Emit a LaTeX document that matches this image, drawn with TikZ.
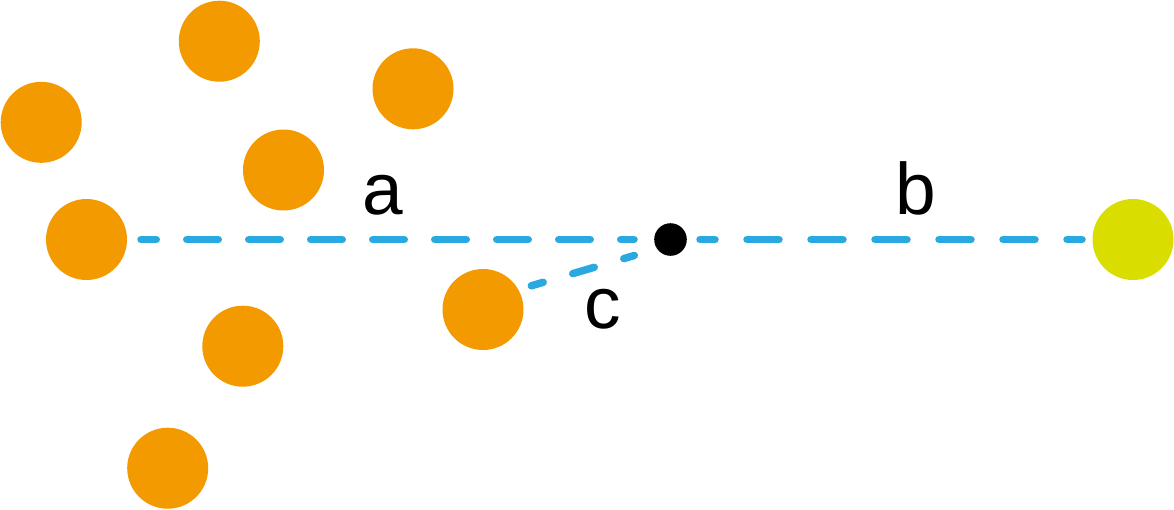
\documentclass[tikz,border=0pt]{standalone}
\usepackage{fontspec}
\setmainfont{Liberation Sans}
\definecolor{dotorange}{HTML}{F39A00}
\definecolor{dotyellow}{HTML}{DADE00}
\definecolor{linkblue}{HTML}{29A9E0}
\begin{document}
\begin{tikzpicture}[x=1pt,y=-1pt,
  dot/.style={circle,fill=dotorange,draw=none,minimum size=81pt,inner sep=0pt},
  target/.style={circle,fill=dotyellow,draw=none,minimum size=81pt,inner sep=0pt},
  centre/.style={circle,fill=black,draw=none,minimum size=32.6pt,inner sep=0pt},
  link/.style={draw=linkblue,line width=7.5pt,line cap=round},
  lbl/.style={anchor=base,inner sep=0pt,font=\fontsize{73}{73}\selectfont}]
\useasboundingbox (0,0) rectangle (1174,509);
\node[dot] (o1) at (219.3,41.2) {};
\node[dot] (o2) at (413,88.8) {};
\node[dot] (o3) at (41.2,122.3) {};
\node[dot] (o4) at (283.5,170) {};
\node[dot] (o5) at (86.5,239.5) {};
\node[dot] (o6) at (483,309.5) {};
\node[dot] (o7) at (242.8,346.2) {};
\node[dot] (o8) at (167.7,468.2) {};
\node[target] (y) at (1133,239.5) {};
\node[centre] (p) at (670.5,239.5) {};
\coordinate (cA) at (531.3,285.8);
\coordinate (cB) at (634.3,255.5);
\draw[link,dash pattern=on 31.5pt off 30.5pt,dash phase=16.25pt,shorten <=54.5pt,shorten >=36.5pt] (o5.center) -- (p.center);
\draw[link,dash pattern=on 32pt off 32pt,dash phase=17pt,shorten <=29.5pt,shorten >=51pt] (p.center) -- (y.center);
\draw[link,dash pattern=on 22.4pt off 30.8pt,dash phase=10pt] (cA) -- (cB);
\node[lbl] (la) at (382.5,214) {a};
\node[lbl] (lb) at (916,214.5) {b};
\node[lbl] (lc) at (603,328) {c};
\end{tikzpicture}
\end{document}
